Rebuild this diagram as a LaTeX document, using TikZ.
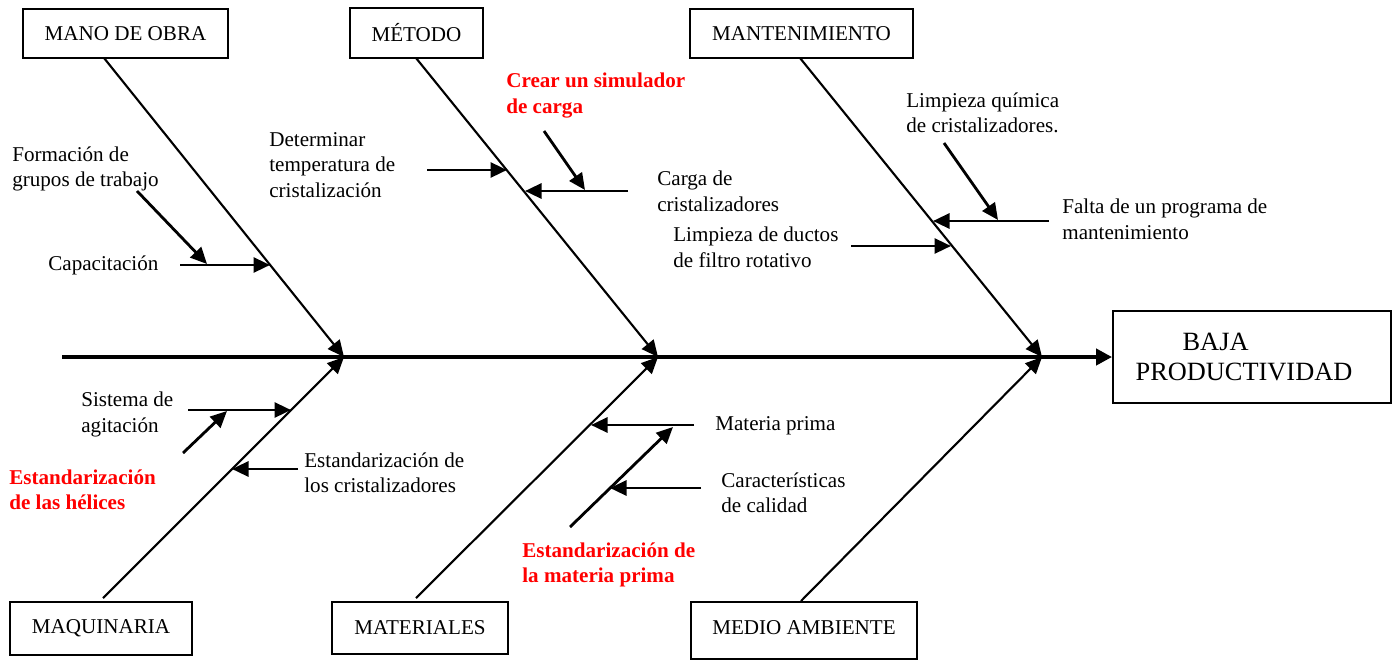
\documentclass[tikz,border=0pt]{standalone}
\usepackage{fontspec}
\setmainfont{Liberation Serif}
\usetikzlibrary{arrows.meta}

\begin{document}
\begin{tikzpicture}[x=0.02cm,y=-0.02cm,
  categoria/.style={draw, line width=1.1pt, inner sep=0pt, font=\fontsize{12}{14.6}\selectfont},
  causa/.style={anchor=north west, inner sep=0pt, align=left, font=\fontsize{12}{14.6}\selectfont},
  propuesta/.style={causa, text=red, font=\fontsize{12}{14.6}\selectfont\bfseries},
  espina/.style={line width=2.3pt, -{Triangle[length=0.32cm,width=0.32cm]}},
  hueso/.style={line width=1.2pt, -{Triangle[length=0.33cm,width=0.3cm]}},
  flecha/.style={line width=1.6pt, -{Triangle[length=0.33cm,width=0.3cm]}}]

\useasboundingbox (0,0) rectangle (1392,659);

\node[categoria, minimum width=4.10cm, minimum height=0.98cm] (mano) at (125.5,33.5) {MANO DE OBRA};
\node[categoria, minimum width=2.66cm, minimum height=1.00cm] (metodo) at (416.5,33) {MÉTODO};
\node[categoria, minimum width=4.46cm, minimum height=0.98cm] (mant) at (801.5,33.5) {MANTENIMIENTO};
\node[categoria, minimum width=3.64cm, minimum height=1.06cm] (maq) at (101,628.5) {MAQUINARIA};
\node[categoria, minimum width=3.52cm, minimum height=1.04cm] (mat) at (420,628) {MATERIALES};
\node[categoria, minimum width=4.52cm, minimum height=1.14cm, text depth=0.12cm] (medio) at (804,630.5) {MEDIO AMBIENTE};
\node[categoria, minimum width=5.56cm, minimum height=1.84cm, align=left, font=\fontsize{15}{17.6}\selectfont] (efecto) at (1252,357) {\hspace{0.94cm}BAJA\\PRODUCTIVIDAD\rule{0.32cm}{0pt}};

% espina y huesos
\coordinate (cola) at (62,357);
\coordinate (j1) at (344,357);
\coordinate (j2) at (658,357);
\coordinate (j3) at (1042,357);
\coordinate (b1) at (104,58);
\coordinate (b2) at (416,58);
\coordinate (b3) at (800,58);
\coordinate (b4) at (103,598);
\coordinate (b5) at (416,598);
\coordinate (b6) at (801,601);

\draw[espina] (cola) -- (efecto);
\draw[hueso] (b1) -- (j1);
\draw[hueso] (b2) -- (j2);
\draw[hueso] (b3) -- (j3);
\draw[hueso] (b4) -- (j1);
\draw[hueso] (b5) -- (j2);
\draw[hueso] (b6) -- (j3);

% causas
\node[causa] (formacion) at (12,146) {Formación de\\grupos de trabajo};
\node[causa] (capacitacion) at (48,255) {Capacitación};
\node[causa] (determinar) at (269,132) {Determinar\\temperatura de\\cristalización};
\node[propuesta] (simulador) at (506,73) {Crear un simulador\\de carga};
\node[causa] (ductos) at (673,227) {Limpieza de ductos\\de filtro rotativo};
\node[causa] (carga) at (657,171) {Carga de\\cristalizadores};
\node[causa] (quimica) at (906,92) {Limpieza química\\de cristalizadores.};
\node[causa] (falta) at (1062,199) {Falta de un programa de\\mantenimiento};
\node[causa] (agitacion) at (81,392) {Sistema de\\agitación};
\node[propuesta] (helices) at (9,469) {Estandarización\\de las hélices};
\node[causa] (cristal) at (304,452) {Estandarización de\\los cristalizadores};
\node[causa] (materia) at (715,416) {Materia prima};
\node[causa] (calidad) at (721,472) {Características\\de calidad};
\node[propuesta] (estmateria) at (522,542) {Estandarización de\\la materia prima};

\coordinate (cap1) at (180,265);   \coordinate (cap2) at (270,265);
\coordinate (for1) at (137,191);   \coordinate (for2) at (207,264);
\coordinate (det1) at (427,170);   \coordinate (det2) at (507,170);
\coordinate (car1) at (628,191);   \coordinate (car2) at (525,191);
\coordinate (sim1) at (544,131);   \coordinate (sim2) at (585,190);
\coordinate (duc1) at (851,246);   \coordinate (duc2) at (951,246);
\coordinate (fal1) at (1049,221);  \coordinate (fal2) at (933,221);
\coordinate (qui1) at (944,143);   \coordinate (qui2) at (998,220);
\coordinate (agi1) at (188,410);   \coordinate (agi2) at (291,410);
\coordinate (hel1) at (183,453);   \coordinate (hel2) at (227,411);
\coordinate (cri1) at (298,469);   \coordinate (cri2) at (232,469);
\coordinate (mat1) at (694,425);   \coordinate (mat2) at (591,425);
\coordinate (est1) at (570,527);   \coordinate (est2) at (673,427);
\coordinate (cal1) at (701,488);   \coordinate (cal2) at (610,488);

\draw[flecha] (cap1) -- (cap2);
\draw[flecha] (for1) -- (for2);
\draw[flecha] (det1) -- (det2);
\draw[flecha] (car1) -- (car2);
\draw[flecha] (sim1) -- (sim2);
\draw[flecha] (duc1) -- (duc2);
\draw[flecha] (fal1) -- (fal2);
\draw[flecha] (qui1) -- (qui2);
\draw[flecha] (agi1) -- (agi2);
\draw[flecha] (hel1) -- (hel2);
\draw[flecha] (cri1) -- (cri2);
\draw[flecha] (mat1) -- (mat2);
\draw[flecha] (est1) -- (est2);
\draw[flecha] (cal1) -- (cal2);
\end{tikzpicture}
\end{document}
